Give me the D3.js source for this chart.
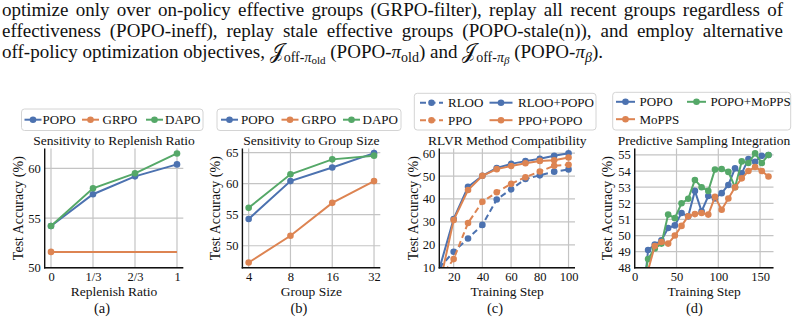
<!DOCTYPE html>
<html><head><meta charset="utf-8">
<script src="https://cdn.jsdelivr.net/npm/d3@7"></script>
<style>
body{margin:0;background:#fff}
svg{display:block}
text{font-family:"Liberation Serif","Times New Roman",Tinos,serif;fill:#111}
</style>
</head><body>
<svg id="c" width="805" height="320"></svg>
<script>
// ---------------- data ----------------
const captionLines = [
  "optimize only over on-policy effective groups (GRPO-filter), replay all recent groups regardless of",
  "effectiveness (POPO-ineff), replay stale effective groups (POPO-stale(n)), and employ alternative"
];

// (a) Sensitivity to Replenish Ratio
const ratioCategories = ["0", "1/3", "2/3", "1"];
const popoRatio = [54.2, 57.4, 59.2, 60.4];
const grpoRatio = [51.6, 51.6, 51.6, 51.6];
const dapoRatio = [54.2, 58.0, 59.5, 61.5];
const ratioYTicks = [50, 55, 60];

// (b) Sensitivity to Group Size
const groupSizes = ["4", "8", "16", "32"];
const popoGroup = [54.3, 60.4, 62.6, 64.9];
const grpoGroup = [47.3, 51.6, 56.9, 60.4];
const dapoGroup = [56.1, 61.5, 63.9, 64.5];
const groupYTicks = [50, 55, 60, 65];

// (c) RLVR Method Compatibility
const rlvrSteps = [10, 20, 30, 40, 50, 60, 70, 80, 90, 100];
const rloo     = [10.0, 17.0, 22.8, 28.7, 39.8, 44.2, 48.7, 50.3, 51.9, 52.9];
const rlooPopo = [9.5, 31.3, 45.3, 50.1, 53.5, 55.3, 56.5, 57.5, 58.8, 59.9];
const ppo      = [5.0, 13.8, 29.5, 38.8, 42.9, 46.6, 49.5, 52.0, 54.5, 54.9];
const ppoPopo  = [2.0, 30.8, 43.9, 50.1, 53.0, 54.4, 55.6, 56.6, 56.9, 58.1];
const rlvrXTicks = [20, 40, 60, 80, 100];
const rlvrYTicks = [10, 20, 30, 40, 50, 60];

// (d) Predictive Sampling Integration
const psSteps = [8, 16, 24, 32, 40, 48, 56, 64, 72, 80, 88, 96, 104, 112, 120, 128, 136, 144, 152, 160];
const popoPS  = [44.9, 49.1, 49.44, 49.7, 50.47, 50.63, 51.4, 51.19, 52.77, 51.5, 52.45, 52.3, 52.63, 53.14, 54.17, 53.86, 54.75, 54.58, 54.95, 55.0];
const popoMoPPS = [46.4, 48.55, 49.2, 49.5, 51.3, 51.08, 52.0, 52.28, 53.45, 53.0, 52.77, 54.1, 54.13, 53.95, 53.0, 54.6, 54.5, 55.1, 54.5, 55.0];
const moPPS   = [40.0, 47.85, 49.35, 49.6, 49.5, 50.0, 50.6, 51.2, 51.33, 51.4, 51.3, 52.4, 51.6, 52.3, 53.0, 53.55, 54.0, 54.25, 54.0, 53.66];
const psXTicks = [0, 50, 100, 150];
const psYTicks = [48, 49, 50, 51, 52, 53, 54, 55];

// ---------------- style ----------------
const C = {blue: "#4C72B0", orange: "#DD8452", green: "#55A868"};
const svg = d3.select("#c");

// ---------------- caption text ----------------
const capG = svg.append("g");
const capFont = 19, capLeft = 2, capRight = 783;
captionLines.forEach((s, i) => {
  const t = capG.append("text").attr("x", capLeft).attr("y", 16 + i * 21)
    .attr("font-size", capFont).text(s);
  const w = t.node().getComputedTextLength();
  const spaces = (s.match(/ /g) || []).length;
  t.attr("word-spacing", (capRight - capLeft - w) / spaces);
});
{
  const t = capG.append("text").attr("x", capLeft).attr("y", 58).attr("font-size", capFont);
  const add = (txt, o = {}) => {
    const ts = t.append("tspan").text(txt);
    if (o.size) ts.attr("font-size", o.size);
    if (o.dy) ts.attr("dy", o.dy);
    if (o.it) ts.attr("font-style", "italic");
    return ts;
  };
  add("off-policy optimization objectives, ");
  add("\u{1D4A5}", {size: 20});
  add("off-", {size: 14, dy: 3.5});
  add("\u03C0", {size: 14, it: true});
  add("old", {size: 11, dy: 2});
  add(" (POPO-", {dy: -5.5});
  add("\u03C0", {it: true});
  add("old", {size: 14, dy: 3.5});
  add(") and ", {dy: -3.5});
  add("\u{1D4A5}", {size: 20});
  add("off-", {size: 14, dy: 3.5});
  add("\u03C0", {size: 14, it: true});
  add("\u03B2", {size: 11, dy: 2, it: true});
  add(" (POPO-", {dy: -5.5});
  add("\u03C0", {it: true});
  add("\u03B2", {size: 14, dy: 3.5, it: true});
  add(").", {dy: -3.5});
}

// ---------------- panel drawing ----------------
const TOP = 148.5, BOTTOM = 267.8;
let clipId = 0;
function drawPanel(p) {
  const g = svg.append("g");
  const x = p.x, y = p.y;
  const [xl, xr] = x.range();
  // grid
  g.append("g").selectAll("line").data(p.yTicks).join("line")
    .attr("x1", xl).attr("x2", xr).attr("y1", d => y(d)).attr("y2", d => y(d))
    .attr("stroke", "#c4c4c4").attr("stroke-width", 1.2);
  g.append("g").selectAll("line").data(p.xTicks).join("line")
    .attr("x1", d => x(d)).attr("x2", d => x(d)).attr("y1", TOP).attr("y2", BOTTOM)
    .attr("stroke", "#c4c4c4").attr("stroke-width", 1.2);
  // clip
  const id = "clip" + (clipId++);
  g.append("clipPath").attr("id", id).append("rect")
    .attr("x", xl).attr("y", TOP).attr("width", xr - xl).attr("height", BOTTOM - TOP);
  const plot = g.append("g").attr("clip-path", `url(#${id})`);
  p.series.forEach(s => {
    const pts = s.xs.map((xv, i) => [x(xv), y(s.ys[i])]);
    plot.append("path").attr("d", d3.line()(pts)).attr("fill", "none")
      .attr("stroke", s.color).attr("stroke-width", 2)
      .attr("stroke-dasharray", s.dash ? "6,3.5" : null);
    const mk = s.firstOnly ? pts.slice(0, 1) : pts;
    plot.append("g").selectAll("circle").data(mk).join("circle")
      .attr("cx", d => d[0]).attr("cy", d => d[1]).attr("r", 3.3).attr("fill", s.color);
  });
  // axes
  const ax = g.append("g").attr("transform", `translate(0,${BOTTOM})`)
    .call(d3.axisBottom(x).tickValues(p.xTicks).tickSize(0).tickPadding(4).tickFormat(p.xFmt || (d => d)));
  const ay = g.append("g").attr("transform", `translate(${xl},0)`)
    .call(d3.axisLeft(y).tickValues(p.yTicks).tickSize(0).tickPadding(4));
  [ax, ay].forEach(a => {
    a.select(".domain").attr("stroke", "#111").attr("stroke-width", 1.4);
    a.selectAll("text").attr("font-size", 12.5).attr("font-family", '"Liberation Serif","Times New Roman",serif').attr("fill", "#111");
  });
  ay.select(".domain").attr("d", `M0,${TOP}V${BOTTOM + 0.7}`);
  ax.select(".domain").attr("d", `M${xl - 0.7},0H${xr}`);
  // texts
  g.append("text").attr("x", (xl + xr) / 2).attr("y", 145).attr("text-anchor", "middle")
    .attr("font-size", 13.5).text(p.title);
  g.append("text").attr("x", (xl + xr) / 2).attr("y", 296).attr("text-anchor", "middle")
    .attr("font-size", 13.5).text(p.xlabel);
  g.append("text").attr("transform", `translate(${p.ylabX},${(TOP + BOTTOM) / 2}) rotate(-90)`)
    .attr("text-anchor", "middle").attr("dy", "0.35em").attr("font-size", 14).text("Test Accuracy (%)");
  g.append("text").attr("x", p.capX).attr("y", 313).attr("text-anchor", "middle")
    .attr("font-size", 14.5).text(p.caption);
  // legend
  const L = p.legend;
  g.append("rect").attr("x", L.x).attr("y", L.y).attr("width", L.w).attr("height", L.h)
    .attr("rx", 3).attr("fill", "#fff").attr("stroke", "#d4d4d4").attr("stroke-width", 1);
  L.items.forEach(it => {
    const s = p.series[it.s];
    g.append("line").attr("x1", it.hx).attr("x2", it.hx + L.hl).attr("y1", it.y).attr("y2", it.y)
      .attr("stroke", s.color).attr("stroke-width", 2).attr("stroke-dasharray", s.dash ? "6,3.5" : null);
    g.append("circle").attr("cx", it.hx + L.hl / 2).attr("cy", it.y).attr("r", 3.3).attr("fill", s.color);
    g.append("text").attr("x", it.tx).attr("y", it.y).attr("dy", "0.35em").attr("font-size", 13).text(s.name);
  });
}

// (a)
drawPanel({
  x: d3.scalePoint().domain(ratioCategories).range([44.7, 183.3]).padding(0.15),
  y: d3.scaleLinear().domain([50, 62]).range([BOTTOM, TOP]),
  xTicks: ratioCategories, yTicks: ratioYTicks,
  series: [
    {name: "POPO", color: C.blue, xs: ratioCategories, ys: popoRatio},
    {name: "GRPO", color: C.orange, xs: ratioCategories, ys: grpoRatio, firstOnly: true},
    {name: "DAPO", color: C.green, xs: ratioCategories, ys: dapoRatio}
  ],
  title: "Sensitivity to Replenish Ratio", xlabel: "Replenish Ratio", ylabX: 18, caption: "(a)", capX: 102,
  legend: {x: 21.5, y: 109, w: 181.5, h: 21.5, hl: 17, items: [
    {s: 0, hx: 24.5, tx: 42.5, y: 119.7}, {s: 1, hx: 82, tx: 102.5, y: 119.7}, {s: 2, hx: 146, tx: 165, y: 119.7}]}
});

// (b)
drawPanel({
  x: d3.scalePoint().domain(groupSizes).range([242.4, 380.3]).padding(0.15),
  y: d3.scaleLinear().domain([46.45, 65.65]).range([BOTTOM, TOP]),
  xTicks: groupSizes, yTicks: groupYTicks,
  series: [
    {name: "POPO", color: C.blue, xs: groupSizes, ys: popoGroup},
    {name: "GRPO", color: C.orange, xs: groupSizes, ys: grpoGroup},
    {name: "DAPO", color: C.green, xs: groupSizes, ys: dapoGroup}
  ],
  title: "Sensitivity to Group Size", xlabel: "Group Size", ylabX: 215, caption: "(b)", capX: 299,
  legend: {x: 217, y: 109, w: 184, h: 21.5, hl: 17, items: [
    {s: 0, hx: 221, tx: 241, y: 119.7}, {s: 1, hx: 281.5, tx: 301.5, y: 119.7}, {s: 2, hx: 343, tx: 362.5, y: 119.7}]}
});

// (c)
drawPanel({
  x: d3.scaleLinear().domain([10, 104.5]).range([439.3, 575]),
  y: d3.scaleLinear().domain([10, 62]).range([BOTTOM, TOP]),
  xTicks: rlvrXTicks, yTicks: rlvrYTicks,
  series: [
    {name: "RLOO", color: C.blue, dash: true, xs: rlvrSteps, ys: rloo},
    {name: "RLOO+POPO", color: C.blue, xs: rlvrSteps, ys: rlooPopo},
    {name: "PPO", color: C.orange, dash: true, xs: rlvrSteps, ys: ppo},
    {name: "PPO+POPO", color: C.orange, xs: rlvrSteps, ys: ppoPopo}
  ],
  title: "RLVR Method Compatibility", xlabel: "Training Step", ylabX: 413, caption: "(c)", capX: 495,
  legend: {x: 414.3, y: 93.3, w: 181.7, h: 36.7, hl: 23, items: [
    {s: 0, hx: 420, tx: 448, y: 102.7}, {s: 1, hx: 489.5, tx: 518, y: 102.7},
    {s: 2, hx: 420, tx: 448, y: 120.2}, {s: 3, hx: 489.5, tx: 518, y: 120.2}]}
});

// (d)
drawPanel({
  x: d3.scaleLinear().domain([0, 166]).range([634.7, 773.5]),
  y: d3.scaleLinear().domain([48, 55.4]).range([BOTTOM, TOP]),
  xTicks: psXTicks, yTicks: psYTicks,
  series: [
    {name: "POPO", color: C.blue, xs: psSteps, ys: popoPS},
    {name: "POPO+MoPPS", color: C.green, xs: psSteps, ys: popoMoPPS},
    {name: "MoPPS", color: C.orange, xs: psSteps, ys: moPPS}
  ],
  title: "Predictive Sampling Integration", xlabel: "Training Step", ylabX: 607, caption: "(d)", capX: 694.5,
  legend: {x: 612.7, y: 92.3, w: 178, h: 37.7, hl: 19, items: [
    {s: 0, hx: 616, tx: 639.5, y: 101.8}, {s: 1, hx: 687, tx: 710.5, y: 101.8},
    {s: 2, hx: 616, tx: 639.5, y: 119.2}]}
});
</script>
</body></html>
